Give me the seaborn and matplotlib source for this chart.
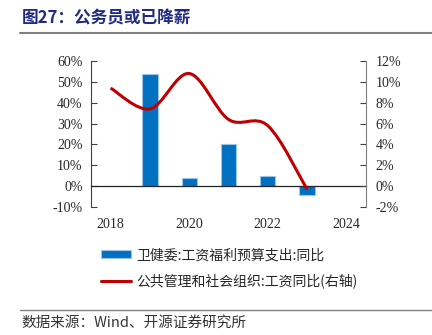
import numpy as np
import pandas as pd
import matplotlib
matplotlib.use("Agg")
import matplotlib.pyplot as plt
from matplotlib.path import Path
from matplotlib.patches import PathPatch
from matplotlib.lines import Line2D
from matplotlib.patches import Patch
import seaborn as sns

# ---- data ----
years = ["2018", "2019", "2020", "2021", "2022", "2023", "2024"]
bar_values = [np.nan, 54.0, 3.8, 20.0, 5.0, -4.3, np.nan]          # 卫健委 工资福利预算支出 同比 (%)
line_years = ["2018", "2019", "2020", "2021", "2022", "2023"]
line_values = [9.4, 7.4, 10.8, 6.4, 5.8, -0.3]                     # 公共管理和社会组织 工资同比 (%), right axis
left_ticks = [-10, 0, 10, 20, 30, 40, 50, 60]
right_ticks = [-2, 0, 2, 4, 6, 8, 10, 12]
xlabel_years = ["2018", "2020", "2022", "2024"]

title = "图27：公务员或已降薪"
bar_label = "卫健委:工资福利预算支出:同比"
line_label = "公共管理和社会组织:工资同比(右轴)"
source = "数据来源：Wind、开源证券研究所"

sns.set_style("white")
plt.rcParams["font.family"] = ["Liberation Serif", "Noto Sans CJK SC", "DejaVu Sans"]
plt.rcParams["axes.unicode_minus"] = False

W, H = 432, 335
fig = plt.figure(figsize=(W / 100, H / 100), dpi=100)
ax = fig.add_axes([91 / W, 1 - 207 / H, (366 - 91) / W, (207 - 61) / H])

df = pd.DataFrame({"year": years, "value": bar_values})
sns.barplot(data=df, x="year", y="value", order=years, ax=ax,
            color="#0070C0", saturation=1, width=0.39,
            edgecolor="#9DC3E6", linewidth=0.8)

ax.set_xlim(-0.5, len(years) - 0.5)
ax.set_ylim(-10, 60)
ax.set_yticks(left_ticks)
ax.set_yticklabels([f"{t}%" for t in left_ticks])
ax.set_xlabel("")
ax.set_ylabel("")

for s in ["top", "right"]:
    ax.spines[s].set_visible(False)
ax.spines["left"].set_color("#404040")
ax.spines["left"].set_linewidth(0.8)
ax.spines["bottom"].set_position(("data", 0))
ax.spines["bottom"].set_color("#222222")
ax.spines["bottom"].set_linewidth(0.9)

# x: major ticks at boundaries (marks only), minor ticks for the year labels
label_pos = [years.index(y) for y in xlabel_years]
ax.set_xticks([1.5, 3.5, 5.5])
ax.set_xticklabels([])
ax.set_xticks(label_pos, minor=True)
ax.set_xticklabels(xlabel_years, minor=True)
ax.tick_params(axis="x", which="major", direction="in", length=4, width=0.8, color="#404040")
ax.tick_params(axis="x", which="minor", length=0, pad=23, labelsize=10)
ax.tick_params(axis="y", direction="in", length=4, width=0.8, color="#404040",
               left=True, labelsize=10, pad=6)

# right axis + smooth line
ax2 = ax.twinx()
ax2.set_ylim(-2, 12)
ax2.set_yticks(right_ticks)
ax2.set_yticklabels([f"{t}%" for t in right_ticks])
for s in ["top", "left", "bottom"]:
    ax2.spines[s].set_visible(False)
ax2.spines["right"].set_color("#808080")
ax2.spines["right"].set_linewidth(0.8)
ax2.tick_params(axis="y", direction="in", length=4, width=0.8, color="#404040",
                right=True, labelsize=10, pad=7)

xs = np.array([years.index(y) for y in line_years], dtype=float)
ys = np.array(line_values, dtype=float)
pts = np.column_stack([xs, ys])
n = len(pts)
verts = [tuple(pts[0])]
codes = [Path.MOVETO]
for i in range(n - 1):
    p0 = pts[i - 1] if i > 0 else pts[i]
    p1 = pts[i]
    p2 = pts[i + 1]
    p3 = pts[i + 2] if i + 2 < n else pts[i + 1]
    c1 = p1 + (p2 - p0) / 6.0
    c2 = p2 - (p3 - p1) / 6.0
    verts += [tuple(c1), tuple(c2), tuple(p2)]
    codes += [Path.CURVE4] * 3
ax2.add_patch(PathPatch(Path(verts, codes), facecolor="none", edgecolor="#C00000",
                        linewidth=2.2, capstyle="butt", zorder=5))

# legend
handles = [Patch(facecolor="#0070C0", edgecolor="#9DC3E6", linewidth=0.8),
           Line2D([0], [0], color="#C00000", linewidth=2.2)]
fig.legend(handles, [bar_label, line_label], loc="upper center",
           bbox_to_anchor=(229 / W, 1 - 244 / H), frameon=False, ncol=1,
           prop={"family": ["Noto Sans CJK SC", "DejaVu Sans"], "size": 10},
           handlelength=2.2, handleheight=0.45, labelspacing=0.8, handletextpad=0.35,
           borderaxespad=0, borderpad=0.3)

# title, rules, source
fig.text(22 / W, 1 - 18 / H, title, color="#1F2A80", fontsize=12, fontweight="bold",
         family=["Noto Sans CJK SC", "DejaVu Sans"], va="center", ha="left")
fig.add_artist(Line2D([20 / W, 1.0], [1 - 33 / H] * 2, color="#808080", linewidth=1.5))
fig.add_artist(Line2D([20 / W, 1.0], [1 - 310 / H] * 2, color="#808080", linewidth=1.0))
fig.text(21 / W, 1 - 323 / H, source, color="#333333", fontsize=10.5,
         family=["Noto Sans CJK SC", "DejaVu Sans"], va="center", ha="left")

fig.savefig("out.png", dpi=100)
